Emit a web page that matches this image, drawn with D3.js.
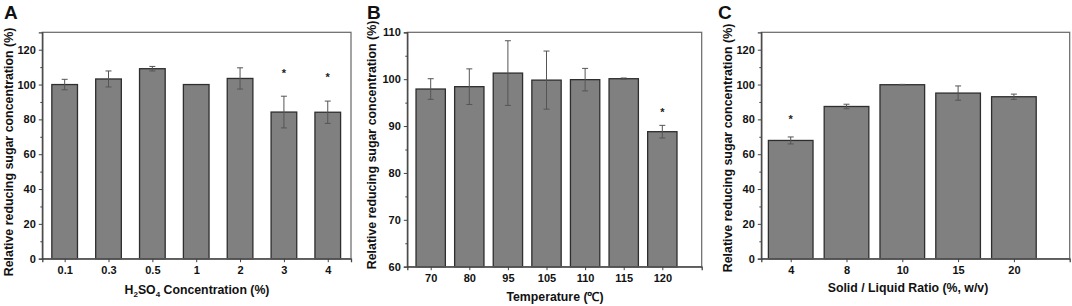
<!DOCTYPE html>
<html><head><meta charset="utf-8">
<script src="https://cdn.jsdelivr.net/npm/d3@7"></script>
<style>
body{margin:0;background:#fff;}
svg text{font-family:"Liberation Sans",Arial,sans-serif;font-weight:bold;fill:#111;}
</style></head>
<body><svg id="c" width="1072" height="306"></svg>
<script>
// Panel A
const catsA = ["0.1","0.3","0.5","1","2","3","4"];
const valsA = [100, 103.2, 109.1, 100, 103.5, 84.2, 84.1];
const errA  = [3.0, 4.6, 1.3, 0, 6.1, 9.1, 6.4];
const starA = [null, null, null, null, null, 107.3, 105];
const ticksA = [0,20,40,60,80,100,120];
// Panel B
const catsB = ["70","80","95","105","110","115","120"];
const valsB = [97.9, 98.4, 101.3, 99.8, 99.9, 100.1, 88.8];
const errB  = [2.2, 3.8, 6.9, 6.2, 2.4, 0.15, 1.35];
const starB = [null, null, null, null, null, null, 93.2];
const ticksB = [60,70,80,90,100,110];
// Panel C
const catsC = ["4","8","10","15","20"];
const valsC = [67.9, 87.4, 99.9, 95.1, 93.0];
const errC  = [2.0, 1.3, 0.2, 4.1, 1.5];
const starC = [81, null, null, null, null];
const ticksC = [0,20,40,60,80,100,120];

const svg = d3.select("#c");

function panel(o){
  const g = svg.append("g");
  const x = d3.scaleLinear().domain(o.xdom).range([o.L, o.R]);
  const y = d3.scaleLinear().domain(o.ydom).range([o.B, o.T]);
  const n = o.cats.length;
  const step = x(1) - x(0);
  const bw = step * o.bwr;
  // bars
  g.selectAll("rect.bar").data(o.vals).join("rect")
    .attr("x", (d,i)=>x(i)-bw/2).attr("y", d=>y(d))
    .attr("width", bw).attr("height", d=>y(o.ydom[0])-y(d))
    .attr("fill","#808080").attr("stroke","#2e2e2e").attr("stroke-width",1.3);
  // error bars
  const eb = g.append("g").attr("stroke","#555").attr("stroke-width",1);
  o.vals.forEach((v,i)=>{
    const e = o.errs[i]; if(!e) return;
    const cx = x(i);
    eb.append("line").attr("x1",cx).attr("x2",cx).attr("y1",y(v+e)).attr("y2",y(v-e));
    eb.append("line").attr("x1",cx-3).attr("x2",cx+3).attr("y1",y(v+e)).attr("y2",y(v+e));
    eb.append("line").attr("x1",cx-3).attr("x2",cx+3).attr("y1",y(v-e)).attr("y2",y(v-e));
  });
  // stars
  o.stars.forEach((s,i)=>{ if(s==null) return;
    g.append("text").attr("x",x(i)).attr("y",y(s)+5).attr("text-anchor","middle")
      .style("font-size","11px").attr("fill","#222").style("fill","#222").text("*");
  });
  // frame
  g.append("rect").attr("x",o.L).attr("y",o.T).attr("width",o.R-o.L).attr("height",o.B-o.T)
    .attr("fill","none").attr("stroke","#666").attr("stroke-width",1.2);
  // y axis
  const ya = d3.axisLeft(y).tickValues(o.yticks).tickSize(3.5).tickPadding(3).tickFormat(d3.format("d"));
  const yg = g.append("g").attr("transform",`translate(${o.L},0)`).call(ya);
  const minor = [];
  for(let k=0;k<o.yticks.length;k++){ const m=o.yticks[k]+o.minorStep; if(m<o.ydom[1]) minor.push(m); }
  g.append("g").attr("transform",`translate(${o.L},0)`).call(d3.axisLeft(y).tickValues(minor).tickSize(2).tickFormat(""))
    .call(s=>s.select(".domain").remove()).selectAll("line").attr("stroke","#444");
  // x axis
  const xa = d3.axisBottom(x).tickValues(d3.range(n)).tickSize(3.5).tickPadding(4).tickFormat(i=>o.cats[i]);
  const xg = g.append("g").attr("transform",`translate(0,${o.B})`).call(xa);
  [yg,xg].forEach(a=>{
    a.select(".domain").attr("stroke","#444").attr("stroke-width",1.3);
    a.selectAll(".tick line").attr("stroke","#444");
    a.selectAll(".tick text").style("font-size","11px").attr("fill","#111");
  });
  // y title
  g.append("text").attr("transform",`translate(${o.ytx},${o.yty}) rotate(-90)`)
    .attr("text-anchor","middle").style("font-size","12.4px").text("Relative reducing sugar concentration (%)");
  // x title
  const xt = g.append("text").attr("x",o.xtx).attr("y",o.xty).attr("text-anchor","middle").style("font-size","12.3px");
  o.xtitle(xt);
  // letter
  g.append("text").attr("x",o.lx).attr("y",19).style("font-size","19px").text(o.letter);
}

panel({cats:catsA, vals:valsA, errs:errA, stars:starA, yticks:ticksA, ydom:[0,130], minorStep:10,
  xdom:[-0.51,6.53], L:42.3, R:351, T:32.3, B:258.7, bwr:0.585,
  ytx:13, yty:152, xtx:197, xty:294, lx:4, letter:"A",
  xtitle: t=>{ t.append("tspan").text("H");
    t.append("tspan").attr("dy",3).style("font-size","8px").text("2");
    t.append("tspan").attr("dy",-3).text("SO");
    t.append("tspan").attr("dy",3).style("font-size","8px").text("4");
    t.append("tspan").attr("dy",-3).text(" Concentration (%)"); }});

panel({cats:catsB, vals:valsB, errs:errB, stars:starB, yticks:ticksB, ydom:[60,110], minorStep:5,
  xdom:[-0.606,7.02], L:407.3, R:701.7, T:32.3, B:266.7, bwr:0.76,
  ytx:376, yty:145, xtx:555, xty:301, lx:367, letter:"B",
  xtitle: t=>t.text("Temperature (℃)")});

panel({cats:catsC, vals:valsC, errs:errC, stars:starC, yticks:ticksC, ydom:[0,130], minorStep:10,
  xdom:[-0.527,5.0], L:761.3, R:1069.7, T:32.3, B:258.7, bwr:0.8,
  ytx:732, yty:148, xtx:908, xty:292, lx:718, letter:"C",
  xtitle: t=>t.text("Solid / Liquid Ratio (%, w/v)")});
</script></body></html>
